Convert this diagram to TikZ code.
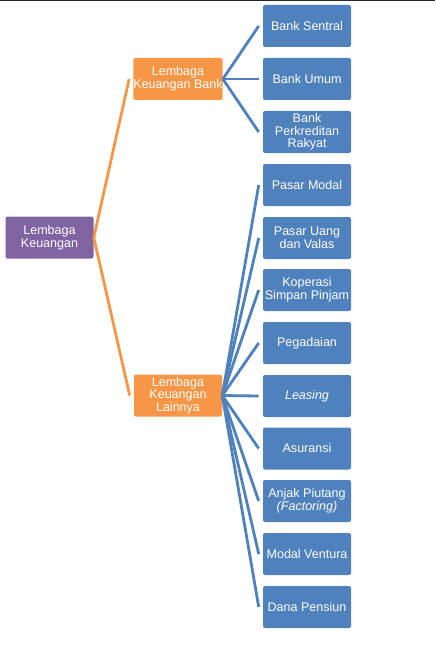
\documentclass[tikz,border=0pt]{standalone}
\usepackage{fontspec}
\setmainfont{Liberation Sans}
\definecolor{boxblue}{HTML}{4F81BD}
\definecolor{boxorange}{HTML}{F79646}
\definecolor{boxpurple}{HTML}{8064A2}
\begin{document}
\begin{tikzpicture}[x=0.75pt, y=-0.75pt, font=\fontsize{9.4}{9.5}\selectfont]
    \tikzset{org box/.style={rectangle, rounded corners=1.5pt, text=white, align=center,
        minimum width=66pt, minimum height=31.5pt, inner xsep=0pt, inner ysep=1pt},
        root box/.style={org box, fill=boxpurple},
        mid box/.style={org box, fill=boxorange},
        leaf box/.style={org box, fill=boxblue},
        orange link/.style={draw=boxorange, line width=2.1pt},
        blue link/.style={draw=boxblue, line width=2.1pt}}

    % Frame and top rule
    \useasboundingbox (0,0) rectangle (435,663);
    \fill[black!85] (0,0) rectangle (435,1.5);

    % Root
    \node[root box] (lk) at (49.5, 237.5) {Lembaga\\Keuangan};

    % Second level
    \node[mid box] (bank) at (178, 79) {Lembaga\\Keuangan Bank};
    \node[mid box] (lain) at (178, 395.5) {Lembaga\\Keuangan\\Lainnya};

    % Banks
    \node[leaf box] (sentral) at (307, 26) {Bank Sentral};
    \node[leaf box] (umum) at (307, 79) {Bank Umum};
    \node[leaf box] (bpr) at (307, 132) {Bank\\Perkreditan\\Rakyat};

    % Other institutions
    \node[leaf box] (modal) at (307, 185) {Pasar Modal};
    \node[leaf box] (uang) at (307, 238) {Pasar Uang\\dan Valas};
    \node[leaf box] (kop) at (307, 290) {Koperasi\\Simpan Pinjam};
    \node[leaf box] (gadai) at (307, 343) {Pegadaian};
    \node[leaf box] (leasing) at (307, 396) {\textit{Leasing}};
    \node[leaf box] (asuransi) at (307, 448.5) {Asuransi};
    \node[leaf box] (anjak) at (307, 501) {Anjak Piutang\\\textit{(Factoring)}};
    \node[leaf box] (ventura) at (307, 554) {Modal Ventura};
    \node[leaf box] (pensiun) at (307, 607) {Dana Pensiun};

    % Links from the root
    \draw[orange link] (lk.east) -- ([xshift=-3pt]bank.west);
    \draw[orange link] (lk.east) -- ([xshift=-3pt]lain.west);

    % Links to the leaves
    \foreach \leaf in {sentral, umum, bpr}
        \draw[blue link] (bank.east) -- ([xshift=-3pt]\leaf.west);
    \foreach \leaf in {modal, uang, kop, gadai, leasing, asuransi, anjak, ventura, pensiun}
        \draw[blue link] (lain.east) -- ([xshift=-3pt]\leaf.west);

\end{tikzpicture}
\end{document}
